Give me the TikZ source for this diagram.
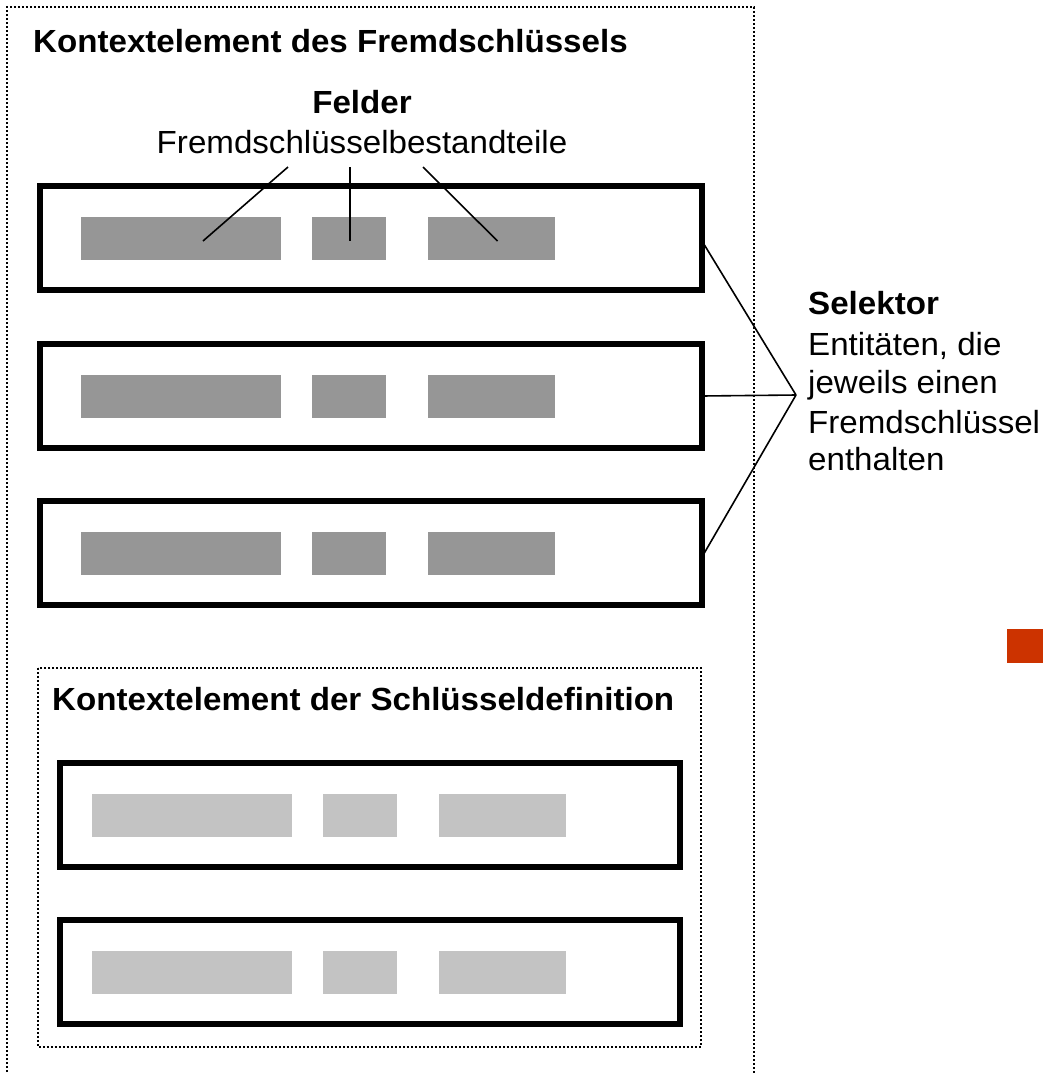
\documentclass[tikz,border=0pt]{standalone}
\usepackage{fontspec}
\setmainfont{Liberation Sans}[FakeStretch=1.035]
\usetikzlibrary{calc}
\begin{document}
\begin{tikzpicture}[x=1pt,y=-1pt,
  dotframe/.style={draw=black,line width=2pt,dash pattern=on 2pt off 2pt},
  entbox/.style={draw=black,line width=5.8pt,minimum width=662pt,minimum height=104pt,inner sep=0pt,outer sep=0pt},
  darkbar/.style={fill=barDark,draw=none,inner sep=0pt,minimum height=43pt},
  lightbar/.style={fill=barLight,draw=none,inner sep=0pt,minimum height=43pt},
  lbl/.style={inner sep=0pt,font=\fontsize{32}{38}\selectfont},
  lblb/.style={inner sep=0pt,font=\fontsize{32}{38}\selectfont\bfseries},
  wire/.style={draw=black,line width=1.6pt}]
\definecolor{barDark}{HTML}{969696}
\definecolor{barLight}{HTML}{C3C3C3}
\definecolor{accentRed}{HTML}{CC3300}

\useasboundingbox[fill=white] (0,0) rectangle (1043,1074);

% outer context frame (open at the bottom)
\draw[dotframe] (7,1080) -- (7,7) -- (754,7) -- (754,1080);
\node[lblb,anchor=base west] (ctxTitle) at (33,52) {Kontextelement des Fremdschlüssels};

% fields caption
\node[lblb,anchor=base] (felder) at (362,113) {Felder};
\node[lbl,anchor=base] (felderSub) at (362,153) {Fremdschlüsselbestandteile};

% entities carrying a foreign key
\foreach \i/\y in {1/238,2/396,3/553}{
  \node[entbox] (e\i) at (371,\y) {};
  \node[darkbar,minimum width=200pt] (e\i a) at (181,\y) {};
  \node[darkbar,minimum width=74pt]  (e\i b) at (349,\y) {};
  \node[darkbar,minimum width=127pt] (e\i c) at (491.5,\y) {};
}

% field pointers
\coordinate (fA) at (288,167);
\coordinate (fB) at (350,167);
\coordinate (fC) at (423,167);
\draw[wire] (fA) -- ($(e1a.center)+(22,3)$);
\draw[wire] (fB) -- ($(e1b.center)+(1,3)$);
\draw[wire] (fC) -- ($(e1c.center)+(6,3)$);

% selector
\coordinate (sel) at (796,395);
\draw[wire] (e1.east) ++(0,3) -- (sel);
\draw[wire] (e2.east) -- (sel);
\draw[wire] (e3.east) ++(0,4) -- (sel);
\node[lblb,anchor=base west] (selTitle) at (808,314) {Selektor};
\node[lbl,anchor=base west] (selL1) at (808,355) {Entitäten, die};
\node[lbl,anchor=base west] (selL2) at (808,393) {jeweils einen};
\node[lbl,anchor=base west] (selL3) at (808,433) {Fremdschlüssel};
\node[lbl,anchor=base west] (selL4) at (808,470) {enthalten};

% red marker
\node[fill=accentRed,draw=none,inner sep=0pt,minimum width=40pt,minimum height=34pt,anchor=north west] (marker) at (1007,629) {};

% inner context of the key definition
\draw[dotframe] (38,668) rectangle (701,1047);
\node[lblb,anchor=base west] (keyTitle) at (52,710) {Kontextelement der Schlüsseldefinition};
\foreach \i/\y in {4/815,5/972}{
  \node[entbox,minimum width=620pt] (e\i) at (370,\y) {};
  \node[lightbar,minimum width=200pt] (e\i a) at (192,\y) {};
  \node[lightbar,minimum width=74pt]  (e\i b) at (360,\y) {};
  \node[lightbar,minimum width=127pt] (e\i c) at (502,\y) {};
}
\end{tikzpicture}
\end{document}
